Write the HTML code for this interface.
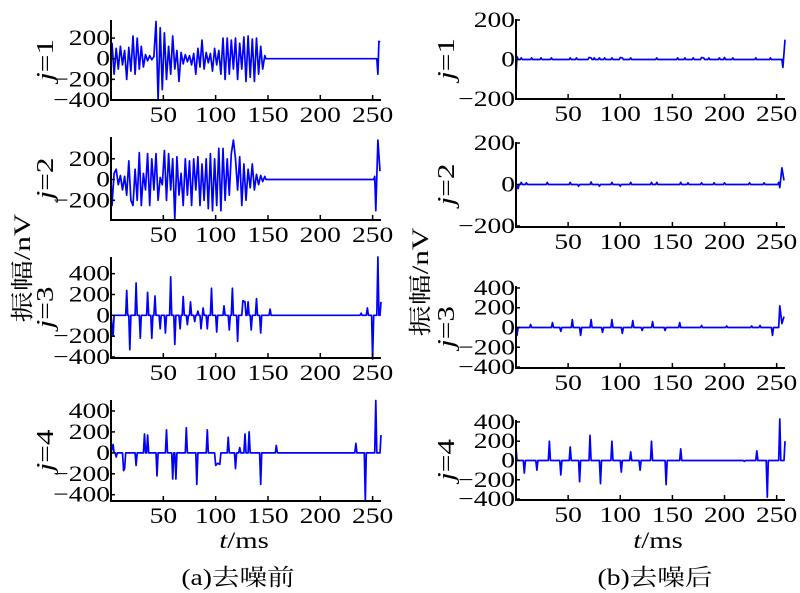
<!DOCTYPE html>
<html><head><meta charset="utf-8"><style>
html,body{margin:0;padding:0;background:#fff;}
svg{display:block;font-family:"Liberation Serif","Noto Serif CJK SC",serif;}
</style></head><body>
<svg id="chart" width="800" height="593" viewBox="0 0 800 593" xmlns="http://www.w3.org/2000/svg">
<text font-size="23" text-anchor="middle" transform="translate(22 268) rotate(-90) translate(0 8) scale(1.35 1)">振幅/nV</text>
<text font-size="23" text-anchor="middle" transform="translate(420 282) rotate(-90) translate(0 8) scale(1.35 1)">振幅/nV</text>
<text font-size="23" text-anchor="middle" transform="translate(244 548) scale(1.25 1)"><tspan font-style="italic">t</tspan>/ms</text>
<text font-size="23" text-anchor="middle" transform="translate(658 548) scale(1.25 1)"><tspan font-style="italic">t</tspan>/ms</text>
<text font-size="23" text-anchor="middle" transform="translate(238 585) scale(1.2 1)">(a)去噪前</text>
<text font-size="23" text-anchor="middle" transform="translate(655 585) scale(1.2 1)">(b)去噪后</text>
</svg>
<script>
// ---- data (time in ms, amplitude in nV) ----
const xTicks = [50, 100, 150, 200, 250];
const denseTimes = [1,3,5,7,9,11,13,15,17,19,21,23,25,27,29,31,33,35,37,39,41,43,45,47,49,51,53,55,57,59,61,63,65,67,69,71,73,75,77,79,81,83,85,87,89,91,93,95,97,99,101,103,105,107,109,111,113,115,117,119,121,123,125,127,129,131,133,135,137,139,141,143,145,147];
const leftJ1Values = [150,-150,100,-100,120,-60,80,-200,110,-120,220,-150,200,-100,120,-80,40,-20,30,-10,20,360,-400,300,-300,250,-200,120,-150,220,-100,80,-220,60,-50,40,-30,30,-60,50,-150,100,-80,180,-100,60,-40,50,-120,100,-60,80,-150,200,-200,200,-150,180,-100,200,-200,150,-100,210,-220,220,-180,190,-220,200,-150,120,-100,30];
const leftJ1TailTimes = [255, 256, 257];
const leftJ1TailValues = [-150, 170, 160];
const leftJ2Values = [-250,60,100,-50,40,-100,30,-150,180,-200,-250,100,-200,260,-250,60,-100,250,-250,200,-100,250,-200,20,-50,280,-200,250,-100,200,-380,220,-150,60,-250,200,-150,180,-250,200,-100,220,-250,150,-200,200,-280,250,-300,200,-250,300,-300,300,-200,200,-150,250,380,200,-100,220,-250,150,-200,100,-80,150,-100,50,-50,40,-20,30];
const leftJ2TailTimes = [252, 253, 255, 257];
const leftJ2TailValues = [30, -300, 380, 80];
const leftJ3Times = [2,15,18,24,28,35,39,42,47,52,57,61,66,69,73,76,80,83,86,88,92,96,101,108,113,116,121,126,128,131,134,139,143,152,239,245,250,255,258];
const leftJ3Values = [-200,240,-330,310,-220,220,-220,185,-130,-170,370,-280,-130,180,-90,130,-60,40,-130,70,-130,260,-160,90,-140,260,-250,140,130,130,-140,160,-170,60,20,70,-420,560,130];
const leftJ4Times = [2,5,12,13,24,32,35,44,53,59,62,72,82,92,100,102,104,112,119,123,128,132,143,158,234,243,253,258];
const leftJ4Values = [80,-40,-170,-150,-120,180,170,-220,220,-250,-250,240,-300,220,-120,-100,-110,150,-150,50,180,200,-300,70,90,-460,500,170];
const rightJ1Times = [0,1,5,15,24,34,52,58,70,72,75,80,85,92,100,102,110,135,155,162,170,178,180,185,195,200,208,230,244,256,258];
const rightJ1Values = [-80,15,8,8,8,8,8,8,10,8,8,8,8,8,10,8,8,8,8,8,8,10,8,8,8,10,8,8,8,-40,100];
const rightJ2Times = [2,5,10,30,52,60,72,80,92,100,110,130,135,158,165,178,190,200,224,238,252,253,255,257];
const rightJ2Values = [-20,10,8,10,10,-8,12,-8,10,-8,10,10,10,10,8,8,8,8,8,8,10,-15,80,20];
const rightJ3Times = [1,14,35,43,54,62,72,83,92,102,112,121,131,143,157,178,202,226,234,246,253,255,257];
const rightJ3Values = [-80,30,50,-40,80,-80,80,-50,80,-60,70,-30,60,-30,50,20,15,15,20,-80,220,40,110];
const rightJ4Times = [0,8,20,32,43,52,61,71,81,92,101,110,119,130,144,158,219,231,241,253,258];
const rightJ4Values = [140,-130,-100,200,-150,140,-220,260,-240,200,-120,90,-100,200,-250,120,-10,100,-380,430,200];
const leftYTicks12 = [200, 0, -200, -400];
const leftYTicks2 = [200, 0, -200];
const yTicks4 = [400, 200, 0, -200, -400];
const rightYTicks12 = [200, 0, -200];

// ---- layout ----
const NS = 'http://www.w3.org/2000/svg';
const svg = document.getElementById('chart');
const X_MAX = 258;
const panels = [
  {name:'left-j1', label:'1', x0:111, x1:381, top:20, bottom:100, ymin:-400, ymax:375, ticks:leftYTicks12, lx:45, t:denseTimes.concat(leftJ1TailTimes), v:leftJ1Values.concat(leftJ1TailValues)},
  {name:'left-j2', label:'2', x0:111, x1:381, top:137, bottom:220, ymin:-390, ymax:410, ticks:leftYTicks2, lx:45, t:denseTimes.concat(leftJ2TailTimes), v:leftJ2Values.concat(leftJ2TailValues)},
  {name:'left-j3', label:'3', x0:111, x1:381, top:257, bottom:358, ymin:-410, ymax:560, ticks:yTicks4, lx:45, t:leftJ3Times, v:leftJ3Values},
  {name:'left-j4', label:'4', x0:111, x1:381, top:400, bottom:501, ymin:-460, ymax:505, ticks:yTicks4, lx:45, t:leftJ4Times, v:leftJ4Values},
  {name:'right-j1', label:'1', x0:516, x1:785, top:19, bottom:99, ymin:-200, ymax:205, ticks:rightYTicks12, lx:446, t:rightJ1Times, v:rightJ1Values},
  {name:'right-j2', label:'2', x0:516, x1:785, top:142, bottom:227, ymin:-205, ymax:205, ticks:rightYTicks12, lx:446, t:rightJ2Times, v:rightJ2Values},
  {name:'right-j3', label:'3', x0:516, x1:785, top:286, bottom:368, ymin:-410, ymax:420, ticks:yTicks4, lx:446, t:rightJ3Times, v:rightJ3Values},
  {name:'right-j4', label:'4', x0:516, x1:785, top:420, bottom:500, ymin:-410, ymax:420, ticks:yTicks4, lx:446, t:rightJ4Times, v:rightJ4Values}
];

function mk(tag, attrs, parent){
  const el = document.createElementNS(NS, tag);
  for (const k in attrs) el.setAttribute(k, attrs[k]);
  (parent || svg).appendChild(el);
  return el;
}

panels.forEach(p => {
  const g = mk('g', {});
  
  
  const sx = t => p.x0 + (t / X_MAX) * (p.x1 - p.x0);
  const sy = v => p.bottom - (v - p.ymin) / (p.ymax - p.ymin) * (p.bottom - p.top);

  const n = Math.min(p.t.length, p.v.length);
  const idx = [];
  for (let i = 0; i < n; i++) idx.push(i);
  idx.sort((a, b) => p.t[a] - p.t[b]);
  let pts = [[0, 0]];
  let prevT = 0;
  idx.forEach(i => {
    const t = p.t[i];
    if (t - prevT > 2) { pts.push([prevT + 1, 0]); pts.push([t - 1, 0]); }
    pts.push([t, p.v[i]]);
    prevT = t;
  });
  const d = pts.map((q, k) => (k ? 'L' : 'M') + sx(q[0]).toFixed(1) + ' ' + sy(q[1]).toFixed(1)).join(' ');
  const line = mk('path', {d: d, fill: 'none', stroke: '#0000ff', 'stroke-width': 1.7, 'stroke-linejoin': 'round'}, g);
  
  

  const ax = mk('path', {d: `M${p.x0} ${p.top} L${p.x0} ${p.bottom} L${p.x1} ${p.bottom}`, fill: 'none', stroke: '#000', 'stroke-width': 2}, g);
  
  

  xTicks.forEach(t => {
    const x = sx(t);
    const tk = mk('line', {x1: x, x2: x, y1: p.bottom, y2: p.bottom - 5, stroke: '#000', 'stroke-width': 1.5}, g);
    
    
    const lb = mk('text', {'font-size': 22, 'text-anchor': 'middle', transform: `translate(${x} ${p.bottom + 22}) scale(1.25 1)`}, g);
    lb.textContent = String(t);
    
    
  });
  p.ticks.forEach(v => {
    const y = sy(v);
    const tk = mk('line', {x1: p.x0, x2: p.x0 + 4, y1: y, y2: y, stroke: '#000', 'stroke-width': 1.5}, g);
    
    
    const lb = mk('text', {'font-size': 22, 'text-anchor': 'end', transform: `translate(${p.x0 - 1} ${y + 7}) scale(1.25 1)`}, g);
    lb.textContent = v < 0 ? '\u2212' + Math.abs(v) : String(v);
    
    
  });

  const cy = (p.top + p.bottom) / 2;
  const jl = mk('text', {'font-size': 24, 'text-anchor': 'middle', transform: `translate(${p.lx} ${cy}) rotate(-90) translate(0 8) scale(1.3 1)`}, g);
  jl.innerHTML = '<tspan font-style="italic">j</tspan>=' + p.label;
  
  
});
</script>
</body></html>
